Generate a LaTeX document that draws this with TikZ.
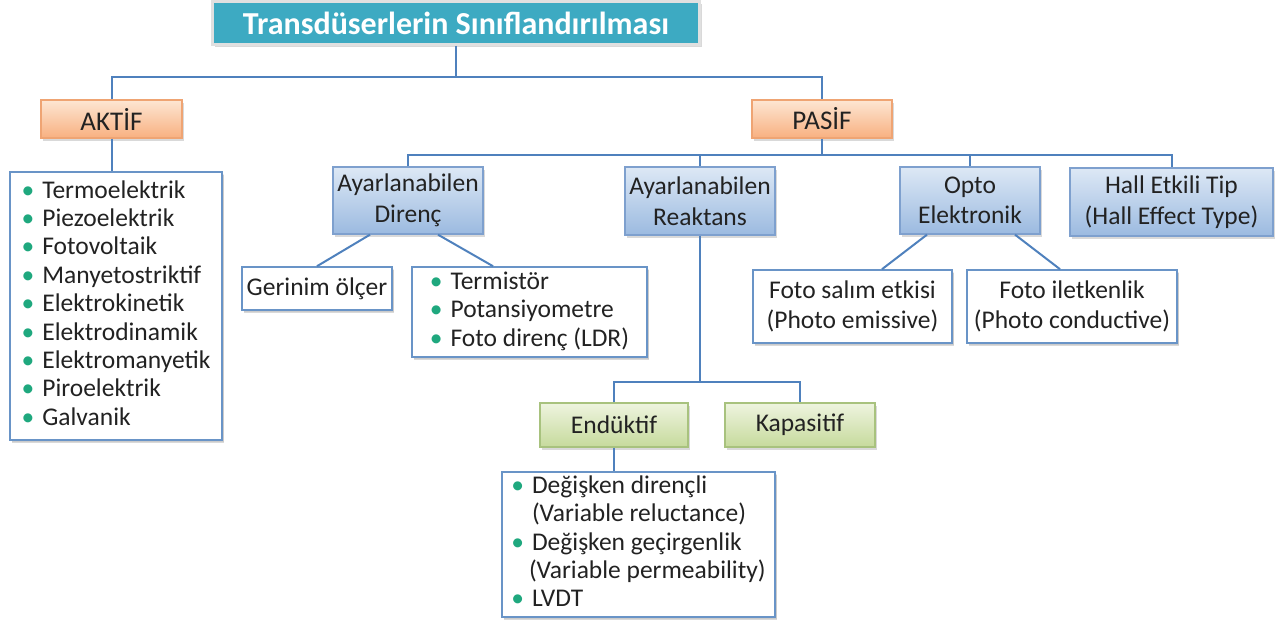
\documentclass[tikz,border=0pt]{standalone}
\usepackage{fontspec}
\setmainfont{Carlito}
\usetikzlibrary{shadows}

\definecolor{lineblue}{HTML}{4F81BD}
\definecolor{txt}{HTML}{222222}
\definecolor{bulgreen}{HTML}{1FA87E}
\definecolor{titlefill}{HTML}{3DAAC2}
\definecolor{blueTop}{HTML}{DDE8F5}
\definecolor{blueBot}{HTML}{9BBAE0}
\definecolor{blueEdge}{HTML}{7EA0CE}
\definecolor{orTop}{HTML}{FDE6D3}
\definecolor{orBot}{HTML}{F8B080}
\definecolor{orEdge}{HTML}{EFA473}
\definecolor{grTop}{HTML}{EEF4DF}
\definecolor{grBot}{HTML}{C6DA9C}
\definecolor{grEdge}{HTML}{A8C27E}

\newcommand{\bul}{{\color{bulgreen}\textbullet}}

\begin{document}
\begin{tikzpicture}[x=1pt,y=-1pt,
  base/.style={rectangle, inner sep=0pt, align=center, text=txt,
    font=\fontsize{25.5}{30.5}\selectfont,
    drop shadow={shadow xshift=2pt, shadow yshift=-2.5pt, opacity=0.3}},
  bluebox/.style={base, draw=blueEdge, line width=1.3pt, top color=blueTop, bottom color=blueBot},
  orangebox/.style={base, draw=orEdge, line width=1.3pt, top color=orTop, bottom color=orBot,
    font=\fontsize{27}{32}\selectfont},
  greenbox/.style={base, draw=grEdge, line width=1.3pt, top color=grTop, bottom color=grBot},
  whitebox/.style={base, draw=lineblue!85, line width=1.6pt, fill=white,
    drop shadow={shadow xshift=1.5pt, shadow yshift=-1.5pt, opacity=0.15}},
  listbox/.style={whitebox, font=\fontsize{25.5}{28.4}\selectfont},
  titlebox/.style={base, draw=black!12, line width=2.5pt, fill=titlefill, text=white,
    font=\fontsize{32}{36}\selectfont\bfseries},
  wire/.style={draw=lineblue, line width=2pt}
]
\useasboundingbox (0,0) rectangle (1279,621);

% --- root and first level ---
\node[titlebox, minimum width=487pt, minimum height=43pt] (title) at (456,23)
  {Transdüserlerin Sınıflandırılması};
\node[orangebox, minimum width=141pt, minimum height=38pt] (aktif) at (111.5,119) {AKTİF};
\node[orangebox, minimum width=140pt, minimum height=38pt] (pasif) at (822,119) {PASİF};

% --- active transducers ---
\node[listbox, minimum width=212pt, minimum height=268pt] (aktlist) at (116,306)
  {\begin{tabular}{@{}c@{\hspace{8pt}}l@{}}
   \bul & Termoelektrik\\
   \bul & Piezoelektrik\\
   \bul & Fotovoltaik\\
   \bul & Manyetostriktif\\
   \bul & Elektrokinetik\\
   \bul & Elektrodinamik\\
   \bul & Elektromanyetik\\
   \bul & Piroelektrik\\
   \bul & Galvanik
   \end{tabular}};

% --- passive transducers ---
\node[bluebox, minimum width=150pt, minimum height=67pt] (direnc) at (408,200.5)
  {Ayarlanabilen\\Direnç};
\node[bluebox, minimum width=150pt, minimum height=68pt] (reaktans) at (700,201)
  {Ayarlanabilen\\Reaktans};
\node[bluebox, minimum width=140pt, minimum height=67pt] (opto) at (970,200.5)
  {Opto\\Elektronik};
\node[bluebox, minimum width=203pt, minimum height=68pt] (hall) at (1171.5,202)
  {Hall Etkili Tip\\(Hall Effect Type)};

\node[whitebox, minimum width=150pt, minimum height=43pt] (gerinim) at (317,288.5)
  {Gerinim ölçer};
\node[listbox, minimum width=235pt, minimum height=90pt] (termistor) at (529.5,312)
  {\begin{tabular}{@{}c@{\hspace{8pt}}l@{}}
   \bul & Termistör\\
   \bul & Potansiyometre\\
   \bul & Foto direnç (LDR)
   \end{tabular}};

\node[whitebox, minimum width=199pt, minimum height=73pt] (fotosalim) at (852.5,306.5)
  {Foto salım etkisi\\(Photo emissive)};
\node[whitebox, minimum width=210pt, minimum height=73pt] (fotoilet) at (1072,306.5)
  {Foto iletkenlik\\(Photo conductive)};

\node[greenbox, minimum width=148pt, minimum height=44pt] (enduktif) at (614,425) {Endüktif};
\node[greenbox, minimum width=150pt, minimum height=44pt] (kapasitif) at (800,425) {Kapasitif};

\node[listbox, minimum width=273pt, minimum height=145pt] (endlist) at (638.5,544.5)
  {\begin{tabular}{@{}c@{\hspace{8pt}}l@{}}
   \bul & Değişken dirençli\\
        & (Variable reluctance)\\
   \bul & Değişken geçirgenlik\\
        & \hspace{-3pt}(Variable permeability)\\
   \bul & LVDT
   \end{tabular}};

% --- connectors ---
\coordinate (bus0) at (456,77);
\coordinate (bus1) at (822,155);
\coordinate (bus2) at (700,382);

\draw[wire] (title.south) -- (bus0);
\draw[wire] (aktif.north) |- (bus0) -| (pasif.north);
\draw[wire] (aktif.south) -- (aktif.south |- aktlist.north);

\draw[wire] (pasif.south) -- (bus1);
\draw[wire] (direnc.north) |- (bus1) -| (hall.north);
\draw[wire] (reaktans.north) |- (bus1);
\draw[wire] (opto.north) |- (bus1);

\draw[wire] ([xshift=-38pt]direnc.south) -- (gerinim.north);
\draw[wire] ([xshift=30pt]direnc.south) -- ([xshift=-36.5pt]termistor.north);

\draw[wire] ([xshift=-43pt]opto.south) -- ([xshift=29.5pt]fotosalim.north);
\draw[wire] ([xshift=45pt]opto.south) -- ([xshift=-12pt]fotoilet.north);

\draw[wire] (reaktans.south) -- (bus2);
\draw[wire] (enduktif.north) |- (bus2) -| (kapasitif.north);
\draw[wire] (enduktif.south) -- (enduktif.south |- endlist.north);
\end{tikzpicture}
\end{document}
